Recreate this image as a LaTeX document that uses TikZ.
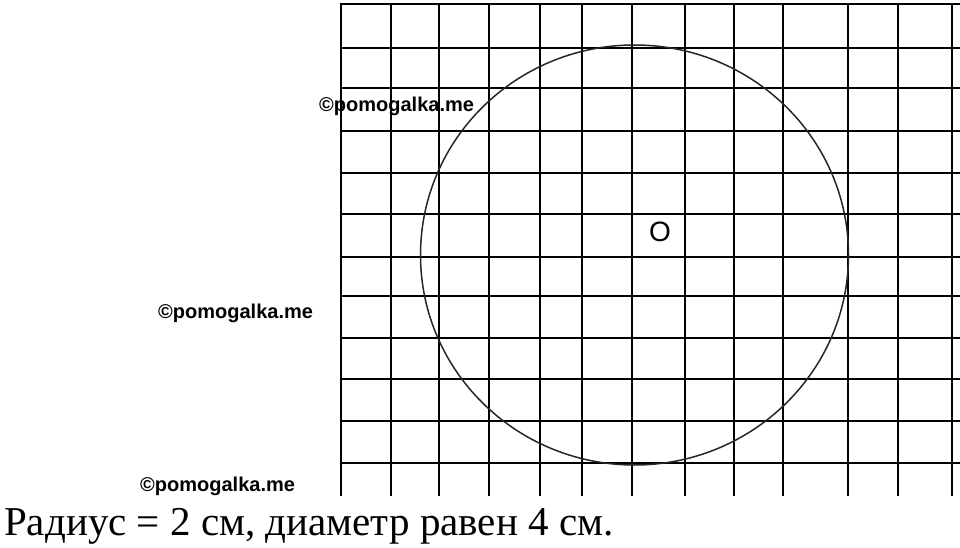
\documentclass[tikz,border=0pt]{standalone}
\usepackage{fontspec}
\setmainfont{Liberation Serif}
\newfontfamily\arialfont{Liberation Sans}
\begin{document}
\begin{tikzpicture}[x=1pt,y=-1pt]
  \tikzstyle{gridline}=[line width=2.6pt,black]
  \tikzstyle{wmark}=[inner sep=0pt,anchor=base west,font=\arialfont\bfseries\fontsize{20}{24}\selectfont]
  \useasboundingbox (0,0) rectangle (960,548);
  % grid
  \foreach \y in {4,48,88,131,173,214,257,296,338,379,421,463}
    \draw[gridline] (341,\y) -- (960,\y);
  \foreach \x in {341,391,439,489,540,582,632,685,734,783,848,898,952}
    \draw[gridline] (\x,3) -- (\x,496);
  % circle
  \draw[line width=1.5pt,black!85] (634.5,255) ellipse (214pt and 210pt);
  \node[inner sep=0pt,font=\arialfont\fontsize{28}{30}\selectfont] (centre) at (660,232) {O};
  % watermarks
  \node[wmark] (wm1) at (319,112) {©pomogalka.me};
  \node[wmark] (wm2) at (158,318) {©pomogalka.me};
  \node[wmark] (wm3) at (140,491) {©pomogalka.me};
  % answer
  \node[inner sep=0pt,anchor=base west,font=\fontsize{41}{44}\selectfont] (answer) at (4,535)
    {Радиус = 2 см, диаметр равен 4 см.};
\end{tikzpicture}
\end{document}
